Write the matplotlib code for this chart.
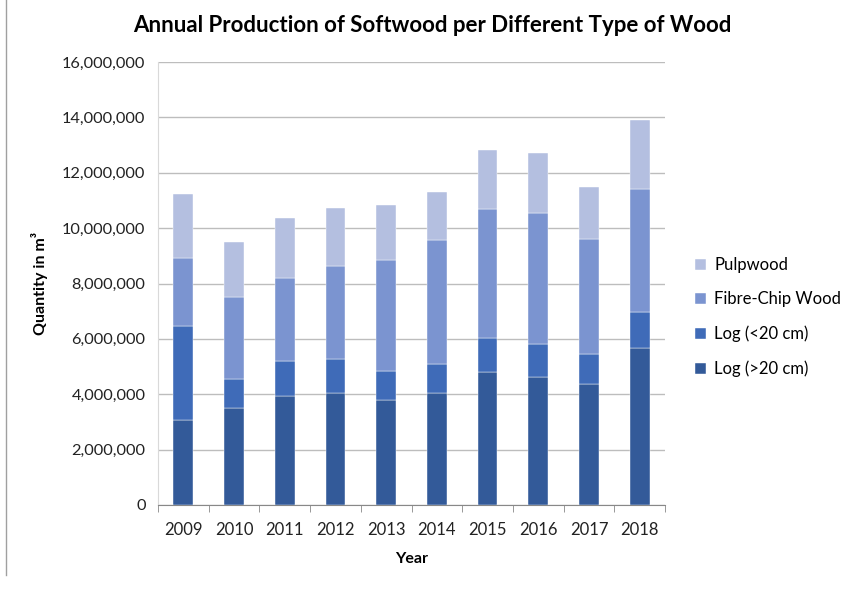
import matplotlib
matplotlib.use("Agg")
import matplotlib.pyplot as plt
import numpy as np
from matplotlib.ticker import FuncFormatter, FixedLocator
from matplotlib.lines import Line2D

years = ["2009", "2010", "2011", "2012", "2013", "2014", "2015", "2016", "2017", "2018"]
log_gt20 = [3070000, 3490000, 3950000, 4030000, 3810000, 4030000, 4790000, 4610000, 4360000, 5660000]
log_lt20 = [3380000, 1070000, 1250000, 1240000, 1040000, 1080000, 1230000, 1200000, 1080000, 1300000]
fibre_chip = [2460000, 2950000, 3000000, 3360000, 4000000, 4460000, 4660000, 4730000, 4170000, 4460000]
pulpwood = [2330000, 1980000, 2180000, 2100000, 1980000, 1750000, 2130000, 2170000, 1870000, 2480000]

series_names = ["Log (>20 cm)", "Log (<20 cm)", "Fibre-Chip Wood", "Pulpwood"]
colors = ["#335A99", "#3F6BB8", "#7B94D0", "#B4BFE0"]

plt.rcParams['font.family'] = ['Lato', 'DejaVu Sans']

fig = plt.figure(figsize=(8.46, 5.91), dpi=100)
ax = fig.add_axes([158/846, 1-505/591, (665-158)/846, (505-62)/591])

x = np.arange(len(years))
bottom = np.zeros(len(years))
handles = []
for name, vals, c in zip(series_names, [log_gt20, log_lt20, fibre_chip, pulpwood], colors):
    b = ax.bar(x, vals, width=0.39, bottom=bottom, color=c, label=name, zorder=3,
               edgecolor='white', linewidth=0.3)
    bottom += np.array(vals)
    handles.append(b)

ax.set_ylim(0, 16000000)
ax.set_xlim(-0.5, len(years) - 0.5)
ax.set_yticks(np.arange(0, 16000001, 2000000))
ax.yaxis.set_major_formatter(FuncFormatter(lambda v, p: f"{int(v):,}"))
ax.grid(axis='y', color='#BDBDBD', linewidth=1, zorder=0)
ax.set_xticks(x)
ax.set_xticklabels(years)
ax.xaxis.set_minor_locator(FixedLocator(np.arange(-0.5, len(years), 1.0)))
ax.tick_params(axis='x', which='major', length=0, labelsize=12, pad=12, colors='#222222')
ax.tick_params(axis='x', which='minor', length=5, color='#888888')
ax.tick_params(axis='y', length=0, labelsize=11.8, pad=9, colors='#222222')

for s in ['top', 'right']:
    ax.spines[s].set_visible(False)
ax.spines['left'].set_color('#D9D9D9')
ax.spines['bottom'].set_color('#888888')

ax.set_xlabel("Year", fontsize=11.5, fontweight='bold', labelpad=10)
ax.set_ylabel("Quantity in m³", fontsize=11.5, fontweight='bold', labelpad=10)

fig.text(432/846, 1-25/591, "Annual Production of Softwood per Different Type of Wood",
         ha='center', va='center', fontsize=16, fontweight='bold')

leg = ax.legend(handles[::-1], series_names[::-1], loc='center left',
                bbox_to_anchor=(680/846, 1-317/591), bbox_transform=fig.transFigure,
                frameon=False, fontsize=12, handlelength=0.65, handleheight=0.65,
                handletextpad=0.5, labelspacing=1.1)

fig.add_artist(Line2D([6/846, 6/846], [1-575/591, 1.0], transform=fig.transFigure,
                      color='#A0A0A0', linewidth=1))

fig.savefig("out.png", dpi=100)
